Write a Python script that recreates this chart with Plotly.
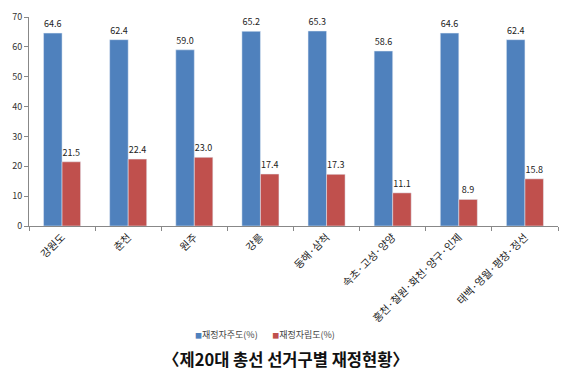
import plotly.graph_objects as go

categories = ["강원도", "춘천", "원주", "강릉", "동해·삼척", "속초·고성·양양",
              "홍천·철원·화천·양구·인제", "태백·영월·평창·정선"]
jajudo = [64.6, 62.4, 59.0, 65.2, 65.3, 58.6, 64.6, 62.4]
jariphdo = [21.5, 22.4, 23.0, 17.4, 17.3, 11.1, 8.9, 15.8]
series_names = ["재정자주도(%)", "재정자립도(%)"]
colors = ["#4F81BD", "#C0504D"]
y_ticks = [0, 10, 20, 30, 40, 50, 60, 70]

FONT = "Noto Sans CJK KR"

fig = go.Figure()
for vals, name, col in zip([jajudo, jariphdo], series_names, colors):
    fig.add_trace(go.Bar(x=categories, y=vals, name=name,
                         marker_color=col, showlegend=False,
                         text=[f"{v:.1f}" for v in vals], textposition="outside",
                         textfont=dict(size=9, color="#222", family=FONT),
                         cliponaxis=False))
# legend entries: colored square glyph directly before the text
for name, col, lg in zip(series_names, colors, ["legend", "legend2"]):
    fig.add_trace(go.Scatter(
        x=[None], y=[None], mode="markers", legend=lg,
        name=f"<span style='color:{col};font-size:7px'>■</span>{name}",
        marker=dict(symbol="square", size=1, color="rgba(0,0,0,0)")))

legend_style = dict(orientation="h", xanchor="left", y=-0.52, yanchor="middle",
                    font=dict(size=9, color="#444"), itemwidth=30, tracegroupgap=0,
                    bgcolor="rgba(0,0,0,0)")

fig.update_layout(
    width=562, height=376,
    margin=dict(l=29, r=4, t=17, b=150),
    paper_bgcolor="white", plot_bgcolor="white",
    barmode="group", bargap=0.44, bargroupgap=0,
    font=dict(family=FONT, size=9, color="#333"),
    showlegend=True,
    legend=dict(x=0.238, **legend_style),
    legend2=dict(x=0.384, **legend_style),
    annotations=[dict(text="〈제20대 총선 선거구별 재정현황〉", x=0.485, xref="paper",
                      y=-0.635, yref="paper", yanchor="middle", showarrow=False,
                      font=dict(size=16.5, color="#111", family=FONT, weight="bold"))],
)
fig.update_yaxes(range=[0, 70], tickvals=y_ticks, showgrid=False,
                 showline=True, linecolor="#888", linewidth=1,
                 ticks="outside", ticklen=4, tickcolor="#888",
                 tickfont=dict(size=9, color="#333"), zeroline=False)
fig.update_xaxes(showline=True, linecolor="#888", linewidth=1,
                 ticks="outside", ticklen=4, tickcolor="#888",
                 tickson="boundaries", tickangle=-45,
                 tickfont=dict(size=10.5, color="#222"))

fig.write_html("out.html", config={"displayModeBar": False},
               post_script="document.body.style.margin='0';document.body.style.padding='0';")
